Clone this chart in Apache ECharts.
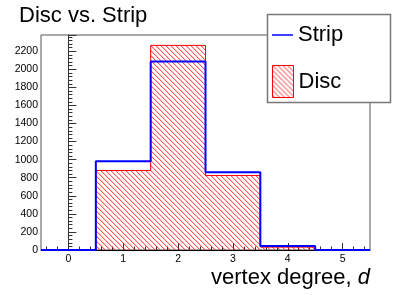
<!DOCTYPE html>
<html>
<head>
<meta charset="utf-8">
<script src="https://cdn.jsdelivr.net/npm/echarts@6/dist/echarts.min.js"></script>
<style>
html,body{margin:0;padding:0;background:#fff;}
#c{width:411px;height:295px;}
</style>
</head>
<body>
<div id="c"></div>
<script>
// ---- data ----
const categories = [0, 1, 2, 3, 4, 5];
const stripValues = [0, 983, 2088, 862, 44, 0];
const discValues = [0, 880, 2265, 825, 32, 0];
const xTickLabels = ['0', '1', '2', '3', '4', '5'];
const yTickLabels = ['0','200','400','600','800','1000','1200','1400','1600','1800','2000','2200'];

// build histogram step outlines from bin centres
function steps(vals) {
  const pts = [];
  categories.forEach((c, i) => {
    pts.push([c - 0.5, vals[i]]);
    pts.push([c + 0.5, vals[i]]);
  });
  return pts;
}
// minor tick positions: 5 subdivisions per unit
const xMin = categories[0] - 0.5, xMax = categories[categories.length - 1] + 0.5;
const xMinor = [];
for (let k = Math.ceil(xMin * 5); k <= Math.floor(xMax * 5); k++) {
  if (k % 5 !== 0) xMinor.push(k / 5);
}

// hatch pattern
const tile = document.createElement('canvas');
tile.width = 5; tile.height = 5;
const g = tile.getContext('2d');
for (let y = 0; y < 5; y++) {
  g.fillStyle = 'rgba(255,0,0,0.65)';
  g.fillRect(y, y, 1, 1);
  g.fillStyle = 'rgba(255,0,0,0.22)';
  g.fillRect((y + 1) % 5, y, 1, 1);
}
const hatch = { image: tile, repeat: 'repeat' };

const font = 'Liberation Sans';
const chart = echarts.init(document.getElementById('c'), null, { renderer: 'canvas' });
chart.setOption({
  animation: false,
  backgroundColor: '#fff',
  textStyle: { fontFamily: font },
  title: {
    text: 'Disc vs. Strip',
    left: 14, top: 0,
    textStyle: { fontFamily: font, fontSize: 22, fontWeight: 'normal', color: '#000' }
  },
  grid: {
    left: 41, right: 41, top: 35, bottom: 45,
    show: true, borderColor: '#555', borderWidth: 1, backgroundColor: 'transparent'
  },
  xAxis: [
    {
      type: 'value', min: xMin, max: xMax, position: 'bottom',
      name: '{n|vertex degree, }{i|d}',
      nameLocation: 'end', nameGap: 0,
      nameTextStyle: {
        align: 'right', verticalAlign: 'top', padding: [17, 0, 0, 0],
        rich: {
          n: { fontFamily: font, fontSize: 22, color: '#000' },
          i: { fontFamily: font, fontSize: 22, color: '#000', fontStyle: 'italic' }
        }
      },
      splitLine: { show: false },
      axisLine: { lineStyle: { color: '#000', width: 1 } },
      axisTick: { inside: true, length: 7, customValues: categories, lineStyle: { color: '#333' } },
      minorTick: { show: false },
      axisLabel: {
        fontFamily: font, fontSize: 10.5, color: '#000', margin: 4,
        customValues: categories,
        formatter: v => { const i = categories.indexOf(v); return i >= 0 ? xTickLabels[i] : ''; }
      }
    },
    {
      type: 'value', min: xMin, max: xMax, position: 'bottom', gridIndex: 0,
      splitLine: { show: false },
      axisLine: { show: false },
      axisTick: { show: true, inside: true, length: 3.5, customValues: xMinor, lineStyle: { color: '#333' } },
      axisLabel: { show: false }
    }
  ],
  yAxis: {
    type: 'value', min: 0, max: 2380, interval: 200,
    splitLine: { show: false },
    axisLine: { show: true, lineStyle: { color: '#333', width: 1 } },
    axisTick: { inside: true, length: 8, lineStyle: { color: '#333' } },
    minorTick: { show: true, splitNumber: 5, length: 4, lineStyle: { color: '#333' } },
    axisLabel: {
      fontFamily: font, fontSize: 10.5, color: '#000', margin: 3,
      showMaxLabel: false,
      formatter: v => { const i = Math.round(v / 200); return (v % 200 === 0 && yTickLabels[i]) ? yTickLabels[i] : ''; }
    }
  },
  legend: [
    {
      data: [{ name: 'Strip', icon: 'rect', itemStyle: { color: '#0000ff', borderWidth: 0 } }],
      left: 272, top: 24, padding: 0,
      itemWidth: 21, itemHeight: 1.5, orient: 'vertical',
      textStyle: { fontFamily: font, fontSize: 22, color: '#000' }
    },
    {
      data: [{ name: 'Disc', icon: 'rect', itemStyle: { color: hatch, borderColor: '#ff0000', borderWidth: 1 } }],
      left: 272, top: 65, padding: 0,
      itemWidth: 21, itemHeight: 32, orient: 'vertical',
      textStyle: { fontFamily: font, fontSize: 22, color: '#000' }
    }
  ],
  graphic: [{
    type: 'rect', z: 3,
    shape: { x: 267.5, y: 14.5, width: 123, height: 88 },
    style: { fill: '#fff', stroke: '#777', lineWidth: 1.5 }
  }],
  series: [
    {
      name: 'Disc', type: 'line', data: steps(discValues),
      symbol: 'none', z: 2,
      lineStyle: { color: '#ff0000', width: 1 },
      itemStyle: { color: '#ff0000' },
      areaStyle: { color: hatch, opacity: 1, origin: 'start' }
    },
    {
      name: 'Strip', type: 'line', data: steps(stripValues),
      symbol: 'none', z: 3,
      lineStyle: { color: '#0000ff', width: 2 },
      itemStyle: { color: '#0000ff' }
    }
  ]
});
</script>
</body>
</html>
